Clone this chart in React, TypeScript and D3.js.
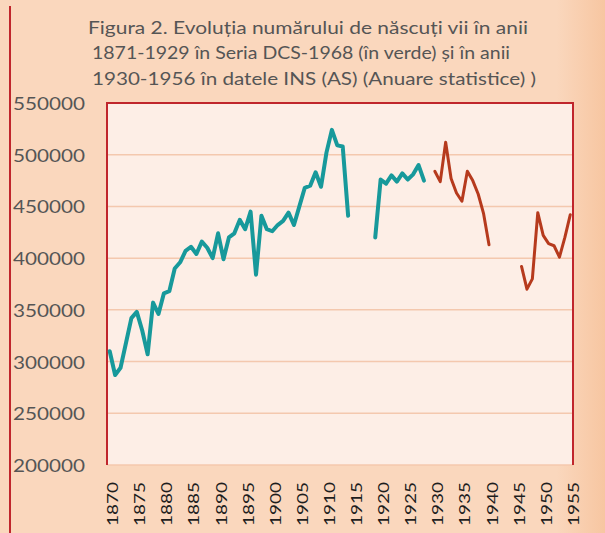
import React from "react";
import * as d3 from "d3";

const titleLines = [
  "Figura  2. Evoluția numărului  de născuți vii în anii",
  "1871-1929 în Seria DCS-1968 (în verde) și în anii",
  "1930-1956  în datele INS (AS) (Anuare statistice)  )",
];

const yTicks = [200000, 250000, 300000, 350000, 400000, 450000, 500000, 550000];
const xTickYears = [1870, 1875, 1880, 1885, 1890, 1895, 1900, 1905, 1910, 1915, 1920, 1925, 1930, 1935, 1940, 1945, 1950, 1955];

// Seria DCS-1968 (green)
const greenYears1 = [1870, 1871, 1872, 1873, 1874, 1875, 1876, 1877, 1878, 1879, 1880, 1881, 1882, 1883, 1884, 1885, 1886, 1887, 1888, 1889, 1890, 1891, 1892, 1893, 1894, 1895, 1896, 1897, 1898, 1899, 1900, 1901, 1902, 1903, 1904, 1905, 1906, 1907, 1908, 1909, 1910, 1911, 1912, 1913, 1914];
const greenValues1 = [310000, 287000, 294000, 318000, 342000, 348000, 330000, 307000, 357000, 346000, 366000, 368000, 390000, 396000, 407000, 411000, 404000, 416000, 410000, 400000, 424000, 399000, 420000, 424000, 437000, 428000, 445000, 384000, 441000, 428000, 426000, 432000, 436000, 444000, 432000, 450000, 468000, 470000, 483000, 469000, 502000, 524000, 509000, 508000, 441000];
const greenYears2 = [1919, 1920, 1921, 1922, 1923, 1924, 1925, 1926, 1927, 1928];
const greenValues2 = [420000, 476000, 472000, 480000, 474000, 482000, 476000, 481000, 490000, 475000];

// INS (AS) (red)
const redYears1 = [1930, 1931, 1932, 1933, 1934, 1935, 1936, 1937, 1938, 1939, 1940];
const redValues1 = [484000, 474000, 512000, 477000, 463000, 455000, 484000, 475000, 462000, 443000, 413000];
const redYears2 = [1946, 1947, 1948, 1949, 1950, 1951, 1952, 1953, 1954, 1955];
const redValues2 = [392000, 370000, 380000, 444000, 422000, 414000, 412000, 401000, 420000, 442000];

const allYears = d3.range(1870, 1956);

const W = 605;
const H = 533;
const L = 107;
const R = 573;
const T = 103;
const B = 465;

const titleX = [88, 92, 92];
const titleLen = [440, 418, 444];

export default function App() {
  const x = d3.scalePoint<number>().domain(allYears).range([L, R]).padding(0.5);
  const y = d3.scaleLinear().domain([200000, 550000]).range([B, T]);

  const line = d3
    .line<[number, number]>()
    .x((d) => x(d[0]) as number)
    .y((d) => y(d[1]));

  const seg = (ys: number[], vs: number[]) => line(ys.map((yr, i) => [yr, vs[i]] as [number, number])) || "";

  const font = "Lato, 'Open Sans', sans-serif";

  return (
    <svg width={W} height={H} style={{ position: "absolute", left: 0, top: 0 }}>
      <defs>
        <linearGradient id="outer" x1="0" x2="1" y1="0" y2="0">
          <stop offset="0" stopColor="#fad7bd" />
          <stop offset="0.92" stopColor="#fad7bd" />
          <stop offset="1" stopColor="#f7c6a1" />
        </linearGradient>
      </defs>
      <rect x={0} y={0} width={W} height={H} fill="url(#outer)" />
      <line x1={10} x2={10} y1={6} y2={H} stroke="#c0262c" strokeWidth={2} />
      <rect x={L} y={T} width={R - L} height={B - T} fill="#fdeee6" />
      {yTicks.map((t) => (
        <line key={t} x1={L} x2={R} y1={y(t)} y2={y(t)} stroke="#f4c8ae" strokeWidth={1.5} />
      ))}
      <path d={`M${L},${B} V${T} H${R} V${B}`} fill="none" stroke="#c0262c" strokeWidth={2} />
      {titleLines.map((s, i) => (
        <text key={i} x={titleX[i]} y={27 + i * 25.5} fontFamily={font} fontSize={17} fill="#555" dominantBaseline="central" textLength={titleLen[i]} lengthAdjust="spacingAndGlyphs">
          {s}
        </text>
      ))}
      {yTicks.map((t) => (
        <text key={t} x={13} y={y(t)} fontFamily={font} fontSize={18} fill="#555" dominantBaseline="central" textLength={72} lengthAdjust="spacingAndGlyphs">
          {t}
        </text>
      ))}
      {xTickYears.map((yr) => (
        <text key={yr} transform={`translate(${(x(yr) as number) + 2},526) rotate(-90)`} fontFamily={font} fontSize={16} fill="#1e1e1e" dominantBaseline="central" textLength={44} lengthAdjust="spacingAndGlyphs">
          {yr}
        </text>
      ))}
      <path d={seg(greenYears1, greenValues1)} fill="none" stroke="#17999b" strokeWidth={4} strokeLinejoin="round" strokeLinecap="round" />
      <path d={seg(greenYears2, greenValues2)} fill="none" stroke="#17999b" strokeWidth={4} strokeLinejoin="round" strokeLinecap="round" />
      <path d={seg(redYears1, redValues1)} fill="none" stroke="#b63a1d" strokeWidth={3} strokeLinejoin="round" strokeLinecap="round" />
      <path d={seg(redYears2, redValues2)} fill="none" stroke="#b63a1d" strokeWidth={3} strokeLinejoin="round" strokeLinecap="round" />
    </svg>
  );
}
